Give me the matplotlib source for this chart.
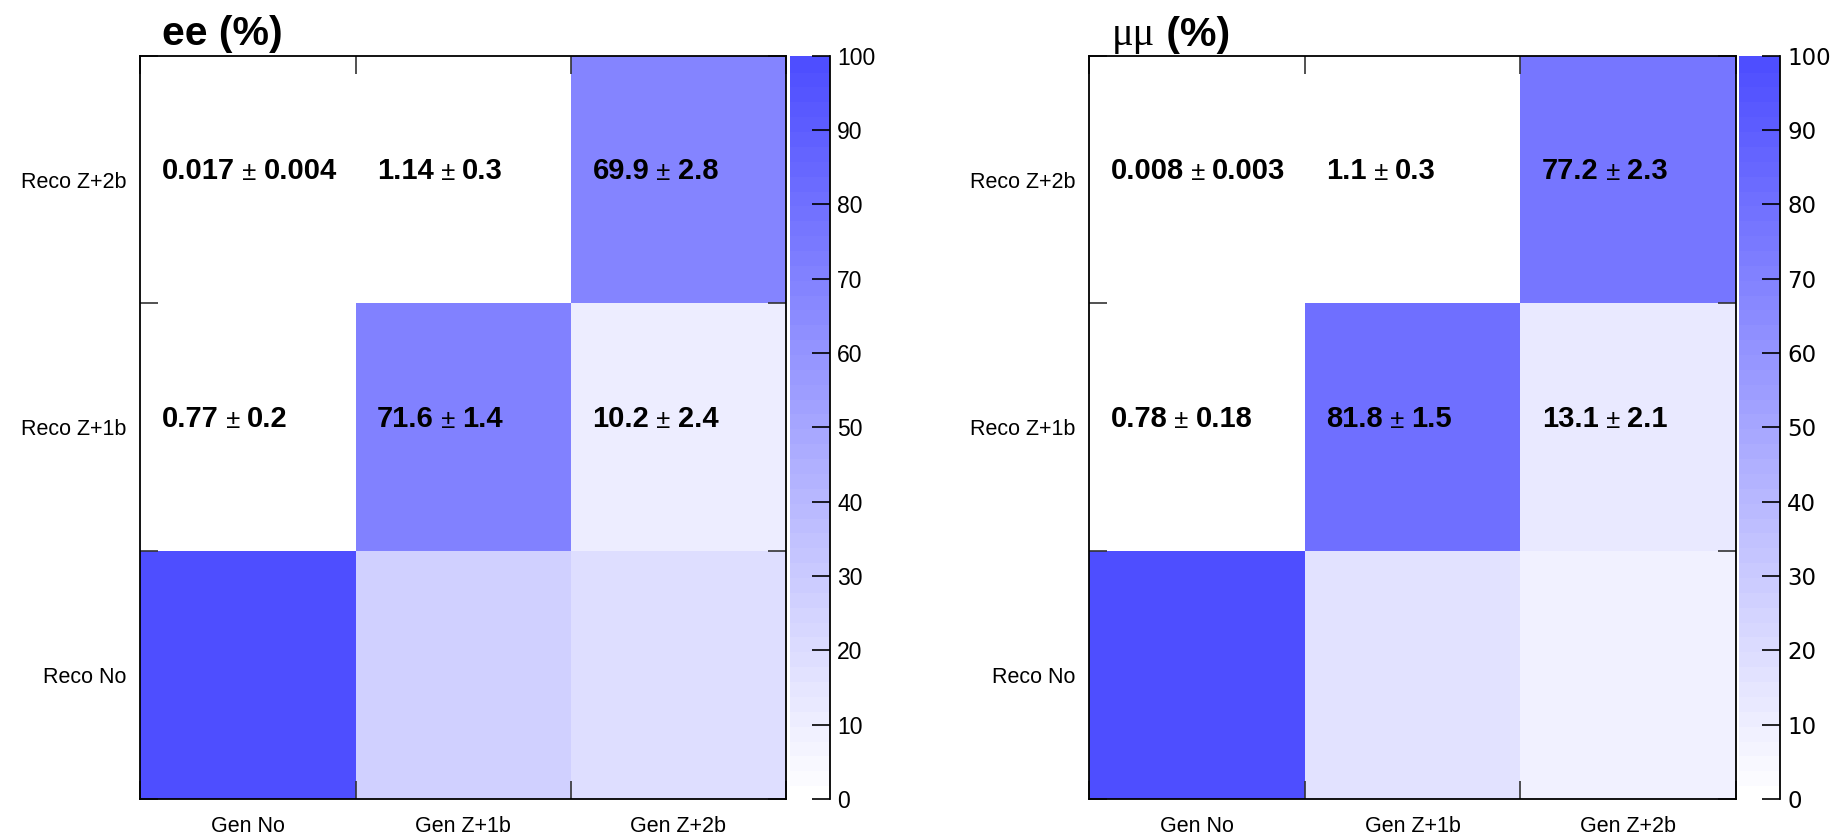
import numpy as np
import matplotlib
matplotlib.use("Agg")
import matplotlib.pyplot as plt
from matplotlib.colors import LinearSegmentedColormap, BoundaryNorm

plt.rcParams['font.family'] = ['Liberation Sans', 'DejaVu Sans']

# ---------------- data ----------------
gen_labels = ["Gen No", "Gen Z+1b", "Gen Z+2b"]
reco_labels = ["Reco No", "Reco Z+1b", "Reco Z+2b"]

# rows: Reco No, Reco Z+1b, Reco Z+2b ; columns: Gen No, Gen Z+1b, Gen Z+2b
ee_values = [[99.2, 27.3, 19.9],
             [0.77, 71.6, 10.2],
             [0.017, 1.14, 69.9]]
ee_text = [[None, None, None],
           [("0.77", "0.2"), ("71.6", "1.4"), ("10.2", "2.4")],
           [("0.017", "0.004"), ("1.14", "0.3"), ("69.9", "2.8")]]

mm_values = [[99.2, 17.1, 9.7],
             [0.78, 81.8, 13.1],
             [0.008, 1.1, 77.2]]
mm_text = [[None, None, None],
           [("0.78", "0.18"), ("81.8", "1.5"), ("13.1", "2.1")],
           [("0.008", "0.003"), ("1.1", "0.3"), ("77.2", "2.3")]]

cbar_ticks = [0, 10, 20, 30, 40, 50, 60, 70, 80, 90, 100]

# ---------------- style ----------------
base = LinearSegmentedColormap.from_list("wb", [(1, 1, 1), (78/255, 78/255, 1.0)])
levels = np.linspace(0, 100, 51)
cmap = base.resampled(50)
norm = BoundaryNorm(levels, cmap.N)

fig = plt.figure(figsize=(18.34, 8.36), dpi=100)

panels = [
    dict(vals=ee_values, txt=ee_text, ax=[0.0766, 0.0443, 0.352, 0.889],
         cax=[0.4305, 0.0443, 0.0221, 0.889], cfont='Liberation Sans'),
    dict(vals=mm_values, txt=mm_text, ax=[0.5938, 0.0443, 0.3528, 0.889],
         cax=[0.9482, 0.0443, 0.0224, 0.889], cfont='DejaVu Sans'),
]

axes = []
for p in panels:
    ax = fig.add_axes(p['ax'])
    axes.append(ax)
    vals = np.array(p['vals'])
    edges = np.arange(4)
    mesh = ax.pcolormesh(edges, edges, vals, cmap=cmap, norm=norm, shading='flat')
    ax.set_xlim(0, 3)
    ax.set_ylim(0, 3)
    ax.set_xticks(np.arange(3) + 0.5)
    ax.set_xticklabels(gen_labels, fontsize=15.5)
    ax.set_yticks(np.arange(3) + 0.5)
    ax.set_yticklabels(reco_labels, fontsize=15.5)
    ax.tick_params(axis='both', which='major', length=0)
    ax.tick_params(axis='x', which='major', pad=12)
    ax.tick_params(axis='y', which='major', pad=10)
    ax.set_xticks([0, 1, 2, 3], minor=True)
    ax.set_yticks([0, 1, 2, 3], minor=True)
    ax.tick_params(which='minor', direction='in', length=13, width=1.2,
                   color='#333333', top=True, right=True, bottom=True, left=True)
    for s in ax.spines.values():
        s.set_linewidth(1.3)
        s.set_color('black')
    # cell texts: bold value, smaller regular ±, bold error
    for r in range(3):
        for c in range(3):
            t = p['txt'][r][c]
            if t is None:
                continue
            t1 = ax.text(c + 0.1, r + 0.478, t[0], fontsize=21, fontweight='bold',
                         ha='left', va='bottom')
            t2 = ax.annotate(" ± ", xy=(1, 0), xycoords=t1, fontsize=18.5,
                             ha='left', va='bottom')
            ax.annotate(t[1], xy=(1, 0), xycoords=t2, fontsize=21,
                        fontweight='bold', ha='left', va='bottom')
    # colorbar
    cax = fig.add_axes(p['cax'])
    cb = fig.colorbar(mesh, cax=cax, ticks=cbar_ticks)
    cb.minorticks_off()
    cb.outline.set_visible(False)
    cb.solids.set_edgecolor("face")
    cax.tick_params(direction='in', length=13, width=1.2, color='black', pad=5,
                    labelsize=16.5)
    for lab in cax.get_yticklabels():
        lab.set_fontfamily(p['cfont'])
    cax.plot([1, 1], [0, 1], transform=cax.transAxes, color='black', lw=1.3,
             clip_on=False)

# titles
axes[0].text(0.033, 1.014, "ee (%)", transform=axes[0].transAxes, fontsize=29.5,
             fontweight='bold', ha='left', va='baseline')
mu = axes[1].text(0.035, 1.014, "μμ", transform=axes[1].transAxes, fontsize=29,
                  family='Liberation Serif', ha='left', va='baseline')
axes[1].annotate(" (%)", xy=(1, 0), xycoords=mu, fontsize=29.5, fontweight='bold',
                 ha='left', va='bottom')

fig.savefig("out.png", dpi=100)
